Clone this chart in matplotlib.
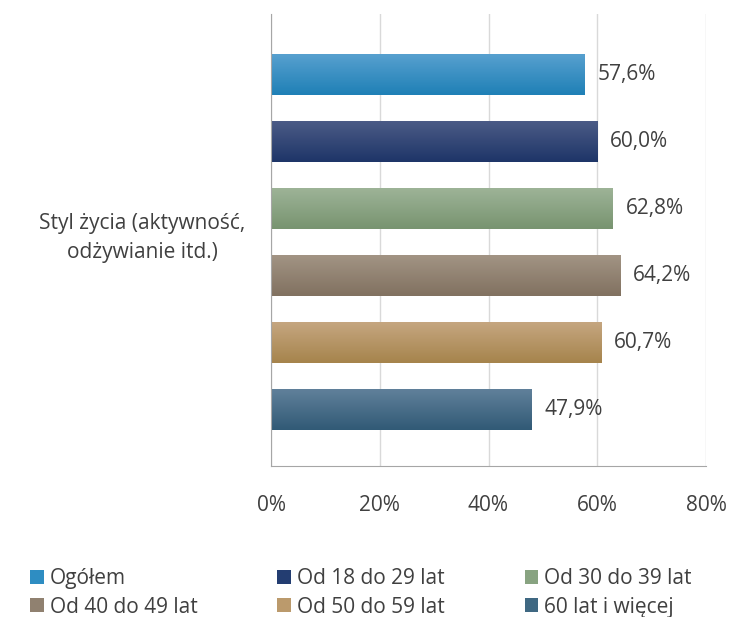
import numpy as np
import matplotlib
matplotlib.use('Agg')
import matplotlib.pyplot as plt
from matplotlib.colors import LinearSegmentedColormap
from matplotlib.patches import Patch

plt.rcParams['font.family'] = ['Open Sans', 'DejaVu Sans']

category = 'Styl życia (aktywność,\nodżywianie itd.)'
groups = ['Ogółem', 'Od 18 do 29 lat', 'Od 30 do 39 lat',
          'Od 40 do 49 lat', 'Od 50 do 59 lat', '60 lat i więcej']
values = [57.6, 60.0, 62.8, 64.2, 60.7, 47.9]
labels = ['57,6%', '60,0%', '62,8%', '64,2%', '60,7%', '47,9%']
# top / bottom colours of each bar's gradient
top_cols = ['#57a0cf', '#4b5b86', '#9db397', '#a29484', '#c5a680', '#60809a']
bot_cols = ['#1f80b6', '#1e3568', '#789470', '#817160', '#a6844c', '#315a76']
mid_cols = ['#2e8dc2', '#233d71', '#88a381', '#908170', '#bb9a6c', '#3f6882']

txt = '#404040'
fs = 15

fig = plt.figure(figsize=(7.29, 6.17), dpi=100)
ax = fig.add_axes([271/729, 1-466/617, 435/729, 452/617])

h = 0.61
grad = np.linspace(0, 1, 64).reshape(-1, 1)
for i, (v, t, b) in enumerate(zip(values, top_cols, bot_cols)):
    cmap = LinearSegmentedColormap.from_list('g%d' % i, [t, b])
    ax.imshow(grad, cmap=cmap, aspect='auto', extent=(0, v, i + h/2, i - h/2),
              origin='upper', zorder=2, interpolation='bilinear')
    ax.text(v + 2.4, i, labels[i], va='center', ha='left', fontsize=fs, color=txt)

ax.set_xlim(0, 80)
ax.set_ylim(5.85, -0.9)
ax.set_xticks([0, 20, 40, 60, 80])
ax.set_xticklabels(['0%', '20%', '40%', '60%', '80%'], fontsize=fs, color=txt)
ax.set_yticks([])
ax.tick_params(axis='x', length=0, pad=21)
ax.grid(axis='x', color='#d9d9d9', lw=1, zorder=0)
for s in ['top', 'right']:
    ax.spines[s].set_visible(False)
ax.spines['left'].set_color('#a6a6a6')
ax.spines['bottom'].set_color('#a6a6a6')
ax.set_axisbelow(True)

fig.text(142/729, 1-238/617, category, ha='center', va='center', fontsize=fs,
         color=txt, linespacing=1.45)

# legend filled row by row
order = [0, 3, 1, 4, 2, 5]
handles = [Patch(facecolor=mid_cols[k], edgecolor='none') for k in order]
leg = fig.legend(handles, [groups[k] for k in order], loc='center left',
                 bbox_to_anchor=(30/729, 24/617, 662/729, 0),
                 mode='expand', ncol=3, frameon=False, fontsize=fs,
                 handlelength=0.65, handleheight=0.65, handletextpad=0.3,
                 labelspacing=0.35, labelcolor=txt, borderaxespad=0, borderpad=0)

fig.savefig('out.png', dpi=100)
